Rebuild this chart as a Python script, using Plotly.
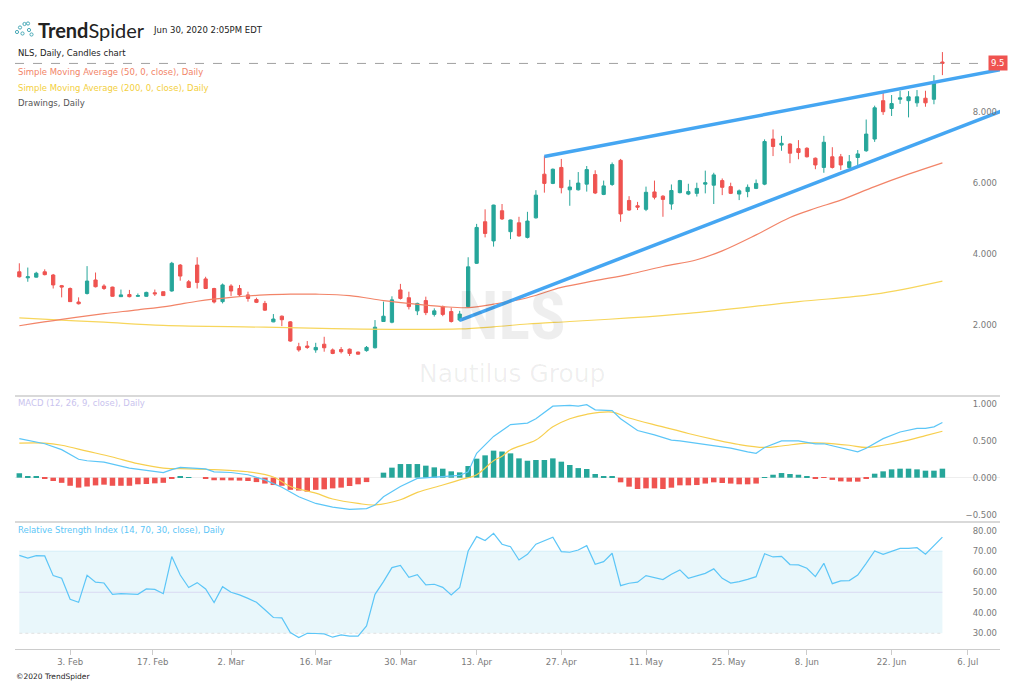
import numpy as np
import pandas as pd
import plotly.graph_objects as go
from plotly.subplots import make_subplots

# ---------------------------------------------------------------- data
holidays = ["2020-02-17", "2020-04-10", "2020-05-25", "2020-07-03"]
calendar = [d for d in pd.bdate_range("2020-01-24", "2020-07-10")
            if d.strftime("%Y-%m-%d") not in holidays]
day_pos = {d.strftime("%Y-%m-%d"): i for i, d in enumerate(calendar)}

opens = [3.49, 3.32, 3.34, 3.49, 3.40, 3.10, 3.02, 2.64, 2.88, 3.26,
         3.09, 3.06, 2.79, 2.85, 2.80, 2.80, 2.90, 2.93, 2.95, 3.68,
         3.21, 3.68, 3.29, 3.02, 2.65, 3.09, 3.02, 2.84, 2.71, 2.60,
         2.08, 2.24, 2.08, 1.38, 1.40, 1.29, 1.45, 1.29, 1.30, 1.31,
         1.23, 1.27, 1.35, 2.09, 2.07, 2.98, 2.76, 2.39, 2.68, 2.29,
         2.51, 2.37, 2.13, 2.51, 3.73, 4.90, 4.36, 5.21, 4.62, 4.87,
         4.46, 5.01, 6.24, 5.98, 6.43, 5.80, 5.80, 5.96, 6.23, 5.67,
         5.95, 6.63, 5.50, 5.35, 5.25, 5.74, 5.62, 5.40, 5.72, 5.68,
         5.70, 5.96, 5.93, 6.06, 5.89, 5.68, 5.75, 5.84, 5.96, 7.23,
         7.06, 7.09, 6.96, 6.97, 6.69, 6.43, 6.73, 6.73, 6.43, 6.71,
         6.90, 7.23, 8.31, 8.09, 8.35, 8.31, 8.25, 8.38, 8.35, 9.40]
highs = [3.73, 3.61, 3.49, 3.56, 3.43, 3.12, 3.05, 2.77, 3.65, 3.47,
         3.14, 3.07, 2.99, 2.98, 2.88, 2.93, 2.99, 2.93, 3.77, 3.71,
         3.26, 3.90, 3.35, 3.04, 3.16, 3.14, 3.12, 2.93, 2.76, 2.67,
         2.30, 2.26, 2.10, 1.49, 1.54, 1.49, 1.66, 1.33, 1.37, 1.33,
         1.24, 1.40, 2.13, 2.65, 2.80, 3.15, 2.93, 2.62, 2.79, 2.46,
         2.54, 2.48, 2.39, 3.90, 4.84, 5.25, 5.38, 5.40, 4.96, 5.04,
         5.18, 5.79, 6.75, 6.40, 6.67, 6.08, 6.30, 6.47, 6.35, 6.06,
         6.57, 6.67, 5.62, 5.46, 5.89, 6.06, 5.65, 5.95, 6.08, 5.97,
         6.00, 6.34, 6.28, 6.12, 6.00, 5.81, 5.95, 6.09, 7.22, 7.50,
         7.32, 7.11, 7.20, 7.00, 6.71, 7.32, 7.00, 6.81, 6.78, 6.92,
         7.78, 8.17, 8.54, 8.47, 8.59, 8.58, 8.61, 8.59, 9.03, 9.68]
lows = [3.33, 3.21, 3.33, 3.39, 3.02, 2.77, 2.64, 2.57, 2.85, 3.05,
        2.98, 2.79, 2.78, 2.77, 2.78, 2.79, 2.81, 2.81, 2.93, 3.24,
        3.04, 3.02, 3.01, 2.60, 2.60, 2.81, 2.81, 2.65, 2.61, 2.39,
        2.07, 1.96, 1.52, 1.24, 1.32, 1.21, 1.24, 1.17, 1.19, 1.12,
        1.16, 1.24, 1.33, 2.08, 2.04, 2.71, 2.43, 2.27, 2.27, 2.23,
        2.24, 2.06, 2.09, 2.49, 3.71, 4.46, 4.20, 4.95, 4.41, 4.48,
        4.43, 4.99, 5.72, 5.96, 5.70, 5.35, 5.78, 5.75, 5.68, 5.65,
        5.91, 4.90, 5.21, 5.23, 5.20, 5.53, 5.04, 5.24, 5.70, 5.65,
        5.61, 5.70, 5.40, 5.65, 5.68, 5.51, 5.59, 5.82, 5.93, 6.75,
        6.90, 6.55, 6.66, 6.71, 6.38, 6.28, 6.40, 6.36, 6.40, 6.50,
        6.87, 7.15, 7.91, 7.88, 8.22, 7.84, 8.14, 8.14, 8.21, 9.03]
closes = [3.35, 3.35, 3.45, 3.41, 3.12, 3.06, 2.65, 2.59, 3.23, 3.07,
          3.02, 2.80, 2.84, 2.79, 2.82, 2.91, 2.87, 2.82, 3.73, 3.37,
          3.05, 3.19, 3.02, 2.64, 3.12, 2.95, 2.84, 2.74, 2.63, 2.41,
          2.16, 2.14, 1.54, 1.29, 1.36, 1.36, 1.35, 1.19, 1.24, 1.19,
          1.17, 1.36, 1.93, 2.24, 2.70, 2.74, 2.51, 2.60, 2.34, 2.39,
          2.29, 2.09, 2.30, 3.63, 4.74, 4.57, 5.37, 4.98, 4.95, 4.50,
          4.92, 5.65, 5.98, 6.38, 5.86, 5.88, 5.99, 6.37, 5.71, 5.91,
          6.51, 5.12, 5.23, 5.31, 5.73, 5.59, 5.53, 5.78, 6.06, 5.75,
          5.84, 6.00, 6.22, 5.87, 5.70, 5.77, 5.87, 5.98, 7.16, 7.02,
          7.11, 6.83, 6.85, 6.73, 6.50, 7.14, 6.43, 6.50, 6.59, 6.81,
          7.37, 8.11, 8.00, 8.23, 8.39, 8.42, 8.42, 8.25, 8.80, 9.36]
last_label = "9.5"

sma50_dates = ["2020-01-24", "2020-01-31", "2020-02-07", "2020-02-13", "2020-02-20",
               "2020-02-25", "2020-03-02", "2020-03-06", "2020-03-11", "2020-03-16",
               "2020-03-20", "2020-03-26", "2020-03-31", "2020-04-06", "2020-04-09",
               "2020-04-15", "2020-04-21", "2020-04-27", "2020-05-01", "2020-05-07",
               "2020-05-13", "2020-05-19", "2020-05-22", "2020-05-29", "2020-06-04",
               "2020-06-09", "2020-06-12", "2020-06-18", "2020-06-24", "2020-06-30"]
sma50 = [1.97, 2.15, 2.31, 2.42, 2.54, 2.66, 2.77, 2.84, 2.86, 2.86,
         2.82, 2.68, 2.60, 2.51, 2.48, 2.58, 2.76, 3.05, 3.24, 3.42,
         3.64, 3.83, 4.08, 4.53, 5.02, 5.28, 5.51, 5.89, 6.24, 6.56]

sma200_dates = ["2020-01-24", "2020-01-31", "2020-02-07", "2020-02-19", "2020-03-06",
                "2020-03-18", "2020-03-27", "2020-04-08", "2020-04-15", "2020-04-21",
                "2020-04-28", "2020-05-07", "2020-05-18", "2020-06-05", "2020-06-18",
                "2020-06-30"]
sma200 = [2.19, 2.13, 2.07, 1.98, 1.93, 1.89, 1.87, 1.88, 1.94, 2.02,
          2.09, 2.19, 2.32, 2.65, 2.86, 3.23]

trend_low_dates = ["2020-04-08", "2020-07-10"]
trend_low = [2.12, 8.02]
trend_high_dates = ["2020-04-23", "2020-07-10"]
trend_high = [6.74, 9.19]

macd_hist = [0.06, 0.02, 0.01, -0.01, -0.045, -0.07, -0.11, -0.135, -0.12, -0.105,
             -0.095, -0.11, -0.11, -0.11, -0.09, -0.086, -0.077, -0.07, -0.01, 0.01,
             0.003, 0.0, -0.01, -0.035, -0.035, -0.037, -0.04, -0.045, -0.06, -0.08,
             -0.10, -0.11, -0.165, -0.175, -0.19, -0.165, -0.158, -0.145, -0.135, -0.113,
             -0.09, -0.06, 0.0, 0.068, 0.136, 0.185, 0.185, 0.185, 0.163, 0.14,
             0.122, 0.086, 0.072, 0.158, 0.258, 0.303, 0.367, 0.355, 0.33, 0.262,
             0.23, 0.24, 0.24, 0.262, 0.217, 0.172, 0.13, 0.118, 0.05, 0.018,
             0.02, -0.063, -0.122, -0.154, -0.145, -0.145, -0.154, -0.136, -0.104, -0.104,
             -0.10, -0.08, -0.063, -0.072, -0.08, -0.09, -0.09, -0.08, 0.005, 0.04,
             0.063, 0.05, 0.04, 0.023, -0.018, -0.003, -0.03, -0.05, -0.054, -0.054,
             -0.018, 0.054, 0.086, 0.113, 0.122, 0.122, 0.113, 0.095, 0.095, 0.122]

macd_dates = ["2020-01-24", "2020-01-29", "2020-01-31", "2020-02-04", "2020-02-05",
              "2020-02-07", "2020-02-12", "2020-02-14", "2020-02-19", "2020-02-20",
              "2020-02-21", "2020-02-26", "2020-02-27", "2020-03-02", "2020-03-04",
              "2020-03-06", "2020-03-10", "2020-03-12", "2020-03-16", "2020-03-18",
              "2020-03-20", "2020-03-24", "2020-03-25", "2020-03-26", "2020-03-30",
              "2020-04-01", "2020-04-03", "2020-04-08", "2020-04-09", "2020-04-13",
              "2020-04-15", "2020-04-17", "2020-04-21", "2020-04-22", "2020-04-24",
              "2020-04-28", "2020-04-29", "2020-04-30", "2020-05-01", "2020-05-05",
              "2020-05-06", "2020-05-08", "2020-05-12", "2020-05-14", "2020-05-15",
              "2020-05-19", "2020-05-21", "2020-05-26", "2020-05-28", "2020-05-29",
              "2020-06-01", "2020-06-03", "2020-06-05", "2020-06-09", "2020-06-10",
              "2020-06-12", "2020-06-16", "2020-06-17", "2020-06-19", "2020-06-23",
              "2020-06-25", "2020-06-26", "2020-06-29", "2020-06-30"]
macd_line = [0.53, 0.46, 0.38, 0.25, 0.23, 0.21, 0.13, 0.10, 0.07, 0.11,
             0.14, 0.12, 0.08, 0.07, 0.04, -0.03, -0.13, -0.26, -0.35, -0.40,
             -0.43, -0.42, -0.37, -0.26, -0.12, -0.01, 0.01, 0.03, 0.08, 0.33,
             0.56, 0.72, 0.74, 0.80, 0.97, 0.98, 0.97, 0.99, 0.92, 0.91,
             0.80, 0.64, 0.58, 0.51, 0.50, 0.47, 0.44, 0.40, 0.35, 0.33,
             0.41, 0.50, 0.50, 0.46, 0.46, 0.40, 0.35, 0.40, 0.53, 0.62,
             0.67, 0.67, 0.69, 0.75]

signal_dates = ["2020-01-24", "2020-01-29", "2020-01-31", "2020-02-05", "2020-02-10",
                "2020-02-13", "2020-02-19", "2020-02-24", "2020-02-27", "2020-03-04",
                "2020-03-09", "2020-03-11", "2020-03-16", "2020-03-18", "2020-03-23",
                "2020-03-25", "2020-03-30", "2020-04-01", "2020-04-06", "2020-04-08",
                "2020-04-13", "2020-04-15", "2020-04-16", "2020-04-17", "2020-04-22",
                "2020-04-24", "2020-04-28", "2020-04-30", "2020-05-05", "2020-05-07",
                "2020-05-13", "2020-05-18", "2020-05-21", "2020-05-27", "2020-06-01",
                "2020-06-03", "2020-06-08", "2020-06-10", "2020-06-15", "2020-06-17",
                "2020-06-19", "2020-06-24", "2020-06-26", "2020-06-30"]
signal_line = [0.47, 0.47, 0.44, 0.36, 0.28, 0.19, 0.13, 0.12, 0.11, 0.08,
               0.01, -0.12, -0.21, -0.29, -0.35, -0.37, -0.30, -0.20, -0.10, -0.03,
               0.04, 0.23, 0.29, 0.38, 0.51, 0.69, 0.80, 0.86, 0.89, 0.81,
               0.69, 0.60, 0.52, 0.45, 0.41, 0.43, 0.47, 0.47, 0.44, 0.41,
               0.44, 0.51, 0.57, 0.63]

rsi = [68.0, 66.6, 67.8, 67.7, 58.1, 56.8, 46.6, 45.1, 58.3, 54.9,
       54.5, 49.0, 49.3, 49.0, 49.0, 51.6, 51.4, 49.3, 67.4, 58.4,
       52.3, 54.7, 51.6, 45.0, 52.7, 50.0, 48.7, 47.0, 45.1, 41.5,
       37.7, 37.5, 30.4, 27.9, 30.0, 29.9, 29.7, 28.1, 29.2, 28.6,
       28.6, 33.6, 49.0, 55.2, 62.0, 63.1, 57.3, 58.6, 53.6, 53.9,
       52.4, 48.7, 52.3, 70.1, 77.1, 75.2, 78.7, 73.4, 72.2, 65.7,
       68.5, 73.4, 75.0, 76.8, 69.8, 69.5, 70.6, 72.7, 63.6, 64.9,
       69.0, 53.2, 54.4, 54.9, 58.1, 57.1, 56.2, 58.8, 60.9, 56.8,
       57.9, 59.2, 61.4, 56.8, 54.5, 55.2, 56.3, 57.6, 68.8, 67.2,
       67.5, 63.5, 63.3, 61.7, 57.6, 64.1, 54.2, 55.5, 55.7, 58.4,
       64.1, 70.1, 68.5, 70.1, 71.4, 71.4, 71.7, 68.5, 72.7, 76.9]
rsi_upper, rsi_mid, rsi_lower = 70, 50, 30

tick_dates = ["2020-02-03", "2020-02-17", "2020-03-02", "2020-03-16", "2020-03-30",
              "2020-04-13", "2020-04-27", "2020-05-11", "2020-05-25", "2020-06-08",
              "2020-06-22", "2020-07-06"]

# ---------------------------------------------------------------- helpers
x = np.arange(len(closes))


def to_x(dates):
    return [day_pos[d] for d in dates]


def tick_position(d):
    ts = pd.Timestamp(d)
    i = int(np.searchsorted(pd.DatetimeIndex(calendar), ts))
    return i if calendar[i] == ts else i - 0.25


tickvals = [tick_position(d) for d in tick_dates]
ticktext = [f"{pd.Timestamp(d).day}. {pd.Timestamp(d).strftime('%b')}" for d in tick_dates]

W, H = 1024, 683
ML, MR, MT, MB = 15, 24, 10, 34


def px_x(px):
    return (px - ML) / (W - ML - MR)


def px_y(py):
    return (H - MB - py) / (H - MT - MB)


GREEN = "#26a69a"
RED = "#ef5350"
FONT = "DejaVu Sans, sans-serif"


def label(text, px, py, color, size=8.5, family=FONT, anchor="left", **kw):
    return dict(text=text, x=px_x(px), y=px_y(py), xref="paper", yref="paper",
                xanchor=anchor, yanchor=kw.pop("yanchor", "middle"),
                font=dict(family=family, size=size, color=color),
                showarrow=False, **kw)


# ---------------------------------------------------------------- figure
fig = make_subplots(rows=3, cols=1, shared_xaxes=True, vertical_spacing=0)

fig.add_trace(go.Candlestick(
    x=x, open=opens, high=highs, low=lows, close=closes,
    increasing=dict(line=dict(color=GREEN, width=1), fillcolor=GREEN),
    decreasing=dict(line=dict(color=RED, width=1), fillcolor=RED),
    whiskerwidth=0, showlegend=False, hoverinfo="skip"), row=1, col=1)

fig.add_trace(go.Scatter(x=to_x(sma200_dates), y=sma200, mode="lines",
                         line=dict(color="#f7d65c", width=1.2, shape="spline"),
                         showlegend=False, hoverinfo="skip"), row=1, col=1)
fig.add_trace(go.Scatter(x=to_x(sma50_dates), y=sma50, mode="lines",
                         line=dict(color="#f28468", width=1.2, shape="spline"),
                         showlegend=False, hoverinfo="skip"), row=1, col=1)
for tx, ty in [(trend_low_dates, trend_low), (trend_high_dates, trend_high)]:
    fig.add_trace(go.Scatter(x=to_x(tx), y=ty, mode="lines",
                             line=dict(color="#45a6f2", width=3.5),
                             showlegend=False, hoverinfo="skip"), row=1, col=1)

# MACD
fig.add_trace(go.Bar(x=x, y=macd_hist,
                     marker=dict(color=[GREEN if v >= 0 else RED for v in macd_hist],
                                 line=dict(width=0)),
                     showlegend=False, hoverinfo="skip"), row=2, col=1)
fig.add_trace(go.Scatter(x=to_x(signal_dates), y=signal_line, mode="lines",
                         line=dict(color="#f7cf4f", width=1.2, shape="spline"),
                         showlegend=False, hoverinfo="skip"), row=2, col=1)
fig.add_trace(go.Scatter(x=to_x(macd_dates), y=macd_line, mode="lines",
                         line=dict(color="#5cc6f7", width=1.2),
                         showlegend=False, hoverinfo="skip"), row=2, col=1)

# RSI
fig.add_trace(go.Scatter(x=x, y=[rsi_upper] * len(x), mode="lines",
                         line=dict(color="#d3eef8", width=1),
                         showlegend=False, hoverinfo="skip"), row=3, col=1)
fig.add_trace(go.Scatter(x=x, y=[rsi_lower] * len(x), mode="lines",
                         line=dict(color="#e2e2e2", width=1, dash="dot"),
                         fill="tonexty", fillcolor="#e9f7fb",
                         showlegend=False, hoverinfo="skip"), row=3, col=1)
fig.add_trace(go.Scatter(x=x, y=[rsi_mid] * len(x), mode="lines",
                         line=dict(color="#d9d9f2", width=1),
                         showlegend=False, hoverinfo="skip"), row=3, col=1)
fig.add_trace(go.Scatter(x=x, y=rsi, mode="lines",
                         line=dict(color="#5cc6f7", width=1.2),
                         showlegend=False, hoverinfo="skip"), row=3, col=1)

# ---------------------------------------------------------------- axes
x_range = [-0.51, 115.8]
tick_font = dict(family=FONT, size=8.5, color="#7a7a7a")
fig.update_xaxes(range=x_range, showgrid=False, zeroline=False,
                 rangeslider_visible=False, showticklabels=False, ticks="")
fig.update_xaxes(showline=True, linecolor="#d9d9d9", linewidth=2, row=1, col=1)
fig.update_xaxes(showline=True, linecolor="#d9d9d9", linewidth=2, row=2, col=1)
fig.update_xaxes(showline=True, linecolor="#cccccc", linewidth=1,
                 ticks="outside", ticklen=5, tickcolor="#cccccc",
                 tickvals=tickvals, ticktext=ticktext, showticklabels=True,
                 tickfont=tick_font, row=3, col=1)

ycommon = dict(side="right", ticklabelposition="inside", showgrid=False,
               tickfont=tick_font, ticks="", showline=False)
fig.update_yaxes(domain=[px_y(395), 1], range=[0.02, 10.865],
                 tickvals=[2, 4, 6, 8], tickformat=".3f", zeroline=False,
                 row=1, col=1, **ycommon)
fig.update_yaxes(domain=[px_y(521), px_y(395)], range=[-0.588, 1.122],
                 tickvals=[-0.5, 0, 0.5, 1], tickformat=".3f",
                 zeroline=True, zerolinecolor="#eeeeee", zerolinewidth=1,
                 row=2, col=1, **ycommon)
fig.update_yaxes(domain=[0, px_y(521)], range=[22.35, 84.72],
                 tickvals=[30, 40, 50, 60, 70, 80], tickformat=".2f", zeroline=False,
                 row=3, col=1, **ycommon)

# ---------------------------------------------------------------- decorations
shapes = [dict(type="line", xref="paper", yref="y", x0=0, x1=px_x(985),
               y0=closes[-1], y1=closes[-1],
               line=dict(color="#a0a0a0", width=1, dash="dash"))]
# little network icon of the logo
for cx, cy in [(17, 32), (20, 27.5), (22.5, 33.5), (24.5, 24), (28, 23.5),
               (29, 30), (31.5, 34.5)]:
    shapes.append(dict(type="circle", xref="paper", yref="paper",
                       x0=px_x(cx - 1.6), x1=px_x(cx + 1.6),
                       y0=px_y(cy + 1.6), y1=px_y(cy - 1.6),
                       line=dict(color="#4aaab8", width=1)))

watermark = "rgba(0,0,0,0.065)"
annotations = [
    label("<b>NLS</b>", 512, 357, watermark, size=66, anchor="center",
          family="Liberation Sans Narrow, Roboto Condensed, DejaVu Sans",
          yanchor="bottom"),
    label("Nautilus Group", 512, 357, watermark, size=25, anchor="center",
          family="DejaVu Sans", yanchor="top"),
    label("<b>Trend</b>Spider", 36, 30, "#222222", size=20, family="Lato, sans-serif"),
    label("Jun 30, 2020 2:05PM EDT", 151, 30, "#222222"),
    label("NLS, Daily, Candles chart", 16, 53, "#222222"),
    label("Simple Moving Average (50, 0, close), Daily", 16, 72, "#f28468"),
    label("Simple Moving Average (200, 0, close), Daily", 16, 88, "#f3cf3e"),
    label("Drawings, Daily", 16, 103, "#555555"),
    label("MACD (12, 26, 9, close), Daily", 16, 403, "#c9c3ee"),
    label("Relative Strength Index (14, 70, 30, close), Daily", 16, 530, "#5cc6f7"),
    label("©2020 TrendSpider", 14, 676, "#222222", size=7.5),
    dict(text=last_label, x=px_x(997.5), y=closes[-1], xref="paper", yref="y",
         xanchor="center", yanchor="middle",
         font=dict(family=FONT, size=8.5, color="white"), bgcolor=RED,
         borderpad=2, showarrow=False),
]

fig.update_layout(
    width=W, height=H,
    margin=dict(l=ML, r=MR, t=MT, b=MB),
    paper_bgcolor="white", plot_bgcolor="white",
    boxgap=0.45, bargap=0.35,
    font=dict(family=FONT),
    shapes=shapes, annotations=annotations,
    hovermode=False,
)

# the page's default body margin would shift the whole chart by 8px
fig.write_html("out.html", config={"displayModeBar": False},
               post_script="document.body.style.margin='0';"
                           "document.body.style.overflow='hidden';")
